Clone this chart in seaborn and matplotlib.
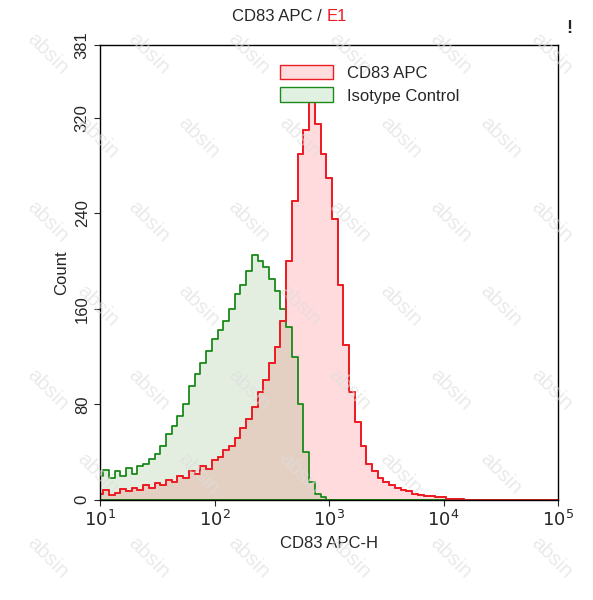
import numpy as np
import pandas as pd
import matplotlib
matplotlib.use("Agg")
import matplotlib.pyplot as plt
import seaborn as sns
from matplotlib.patches import Patch

sns.set_style("white")
plt.rcParams['font.family'] = ['Liberation Sans', 'DejaVu Sans']

log_centers = [round(1.0 + 0.05 * i, 2) for i in range(81)]
red_counts = [5,8,4,6,9,7,10,8,12,10,14,12,17,15,20,18,24,22,28,26,33,36,42,45,52,60,68,78,90,100,
              115,128,150,200,250,290,310,335,315,290,270,235,180,130,90,65,45,30,24,18,15,12,10,8,7,5,
              4,3,3,2,2,1,1,1]
green_counts = [20,25,18,24,20,27,22,28,30,34,38,45,55,62,70,80,95,105,115,125,135,142,150,160,172,180,
                192,205,200,195,185,175,160,145,120,80,40,15,5,2,0]
red_counts = red_counts + [0] * (81 - len(red_counts))
green_counts = green_counts + [0] * (81 - len(green_counts))

df = pd.DataFrame({"x": 10 ** np.array(log_centers, dtype=float),
                   "red": np.array(red_counts, dtype=float),
                   "green": np.array(green_counts, dtype=float)})

fig = plt.figure(figsize=(5.93, 6.0), dpi=100)
ax = fig.add_axes([0.169, 0.167, 0.772, 0.758])

common = dict(data=df, x="x", log_scale=True, binwidth=0.05, binrange=(0.975, 5.025),
              element="step", ax=ax)
sns.histplot(weights="red", fill=True, color="#ee1c24", facecolor=(1.0, 0.86, 0.865, 1.0),
             linewidth=1.3, **common)
sns.histplot(weights="green", fill=True, color="#1a8a1a", facecolor=(0.35, 0.6, 0.25, 0.16),
             linewidth=1.3, **common)
sns.histplot(weights="red", fill=False, color="#ee1c24", linewidth=1.3, **common)

ax.set_xlim(10, 1e5)
ax.set_ylim(0, 381)
ax.set_xticks([10, 100, 1000, 1e4, 1e5])
ax.set_xticklabels([r"$10^1$", r"$10^2$", r"$10^3$", r"$10^4$", r"$10^5$"], fontsize=13)
ax.minorticks_off()
ax.set_yticks([0, 80, 160, 240, 320, 381])
ax.set_yticklabels(["0", "80", "160", "240", "320", "381"], rotation=90, va="center", fontsize=12)
ax.tick_params(direction="out", length=4, left=True, bottom=True)
ax.set_xlabel("CD83 APC-H", fontsize=12)
ax.set_ylabel("Count", fontsize=12)
for s in ax.spines.values():
    s.set_color("black"); s.set_linewidth(1)

for i in range(6):
    for j in range(7):
        x = 0.08 + i * 0.17 + (j % 2) * 0.085
        y = 0.07 + j * 0.14
        if x < 0.95 and y < 0.95:
            fig.text(x, y, "absin", rotation=-45, fontsize=15, color="#dddddd", alpha=0.6,
                     zorder=10, ha="center", va="center")

fig.text(0.55, 0.965, "CD83 APC / ", ha="right", fontsize=12)
fig.text(0.55, 0.965, "E1", ha="left", fontsize=12, color="#ee1c24")
fig.text(0.955, 0.945, "!", fontsize=13, weight="bold")

handles = [Patch(facecolor="#ffdcdd", edgecolor="#ee1c24", label="CD83 APC"),
           Patch(facecolor="#e1f1e1", edgecolor="#1a8a1a", label="Isotype Control")]
ax.legend(handles=handles, loc="upper left", bbox_to_anchor=(0.36, 0.99), frameon=False,
          fontsize=12, handlelength=3.2, handleheight=1.0, labelspacing=0.4)

fig.savefig("out.png", dpi=100)
